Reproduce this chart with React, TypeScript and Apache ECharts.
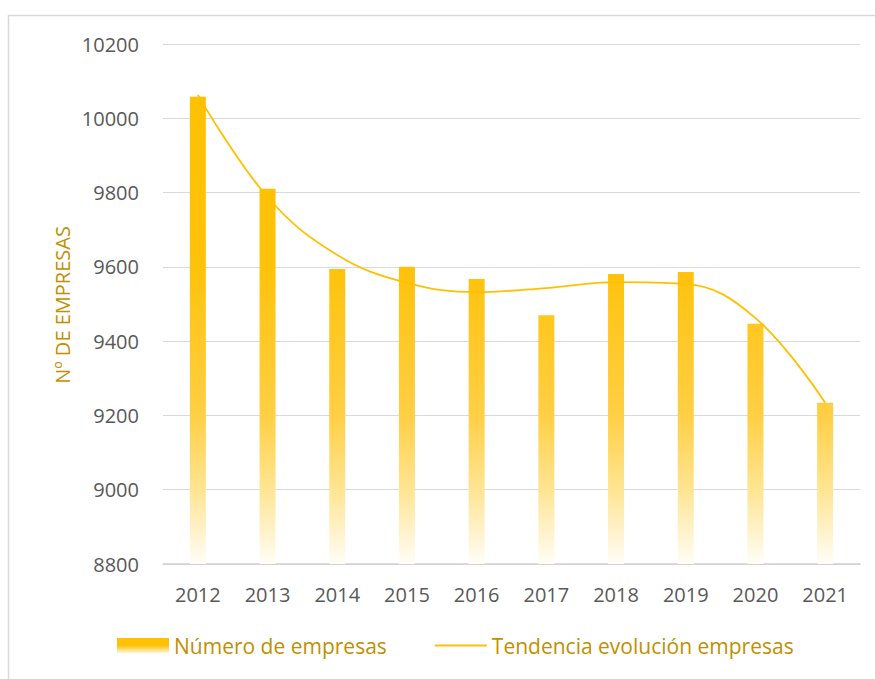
import React, { useEffect, useRef } from "react";
import * as echarts from "echarts";

const years = ["2012", "2013", "2014", "2015", "2016", "2017", "2018", "2019", "2020", "2021"];
const empresas = [10058, 9810, 9594, 9600, 9567, 9470, 9581, 9586, 9447, 9234];
const tendencia = [10063, 9788, 9632, 9557, 9532, 9543, 9559, 9554, 9462, 9234];
const yMin = 8800;
const yMax = 10200;
const yStep = 200;

const GRID_TOP = 44;
const GRID_BOTTOM_Y = 564;
const FONT = "'Open Sans', 'Noto Sans', sans-serif";
const GOLD = "#FFC000";
const TEXT_GOLD = "#BF9000";
const GREY = "#595959";

export default function App() {
  const ref = useRef<HTMLDivElement>(null);
  useEffect(() => {
    if (!ref.current) return;
    const chart = echarts.init(ref.current, undefined, { renderer: "svg" });
    const barGradient = new echarts.graphic.LinearGradient(
      0, GRID_TOP, 0, GRID_BOTTOM_Y,
      [
        { offset: 0, color: "#FFC000" },
        { offset: 0.43, color: "#FFC20A" },
        { offset: 0.715, color: "#FFCF45" },
        { offset: 0.86, color: "#FFE594" },
        { offset: 1, color: "#FFFDF7" },
      ],
      true
    );
    const legendGradient = new echarts.graphic.LinearGradient(0, 0, 0, 1, [
      { offset: 0, color: "#FFC000" },
      { offset: 0.5, color: "#FFC20A" },
      { offset: 1, color: "#FFF6D9" },
    ]);
    chart.setOption({
      animation: false,
      textStyle: { fontFamily: FONT },
      grid: { left: 163, right: 15, top: GRID_TOP, bottom: 679 - GRID_BOTTOM_Y, containLabel: false },
      legend: {
        left: 112,
        top: 630,
        itemWidth: 52,
        itemHeight: 15,
        itemGap: 48,
        textStyle: { color: TEXT_GOLD, fontSize: 21, fontFamily: FONT },
        data: [
          { name: "Número de empresas", icon: "rect", itemStyle: { color: legendGradient } },
          {
            name: "Tendencia evolución empresas",
            icon: "path://M0 0H100V4H0Z",
            itemStyle: { color: GOLD },
          },
        ],
      },
      xAxis: {
        type: "category",
        data: years,
        axisLine: { show: true, lineStyle: { color: "#D0D0D0", width: 1.5 } },
        axisTick: { show: false },
        axisLabel: { color: GREY, fontSize: 20, margin: 20, fontFamily: FONT },
      },
      yAxis: {
        type: "value",
        min: yMin,
        max: yMax,
        interval: yStep,
        axisLine: { show: false },
        axisTick: { show: false },
        axisLabel: {
          color: GREY,
          fontSize: 20,
          margin: 24,
          fontFamily: FONT,
          formatter: (v: number) => String(v),
        },
        splitLine: { lineStyle: { color: "#D9D9D9", width: 1 } },
      },
      graphic: [
        {
          type: "rect",
          shape: { x: 8.5, y: 15.5, width: 900, height: 700 },
          style: { fill: "none", stroke: "#D9D9D9", lineWidth: 1.5 },
          silent: true,
          z: -10,
        },
        {
          type: "text",
          x: 62,
          y: 305,
          rotation: Math.PI / 2,
          style: {
            text: "Nº DE EMPRESAS",
            fill: TEXT_GOLD,
            fontSize: 20,
            fontFamily: FONT,
            align: "center",
            verticalAlign: "middle",
          },
        },
      ],
      series: [
        {
          name: "Número de empresas",
          type: "bar",
          data: empresas,
          barWidth: 16,
          itemStyle: { color: barGradient },
        },
        {
          name: "Tendencia evolución empresas",
          type: "line",
          data: tendencia,
          smooth: 0.4,
          symbol: "none",
          lineStyle: { color: GOLD, width: 1.8 },
          itemStyle: { color: GOLD },
          z: 3,
        },
      ],
    });
    return () => chart.dispose();
  }, []);
  return (
    <div
      ref={ref}
      style={{ position: "absolute", left: 0, top: 0, width: 875, height: 679, background: "#fff" }}
    />
  );
}
